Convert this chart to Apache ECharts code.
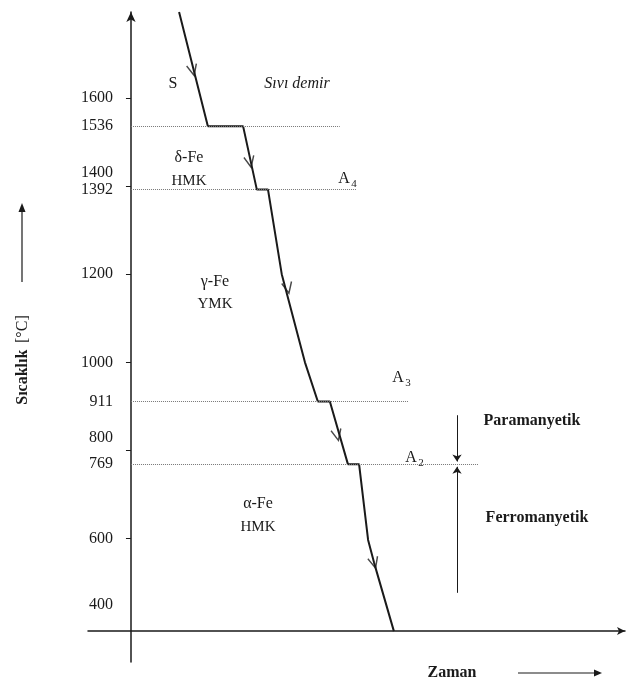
<!DOCTYPE html>
<html>
<head>
<meta charset="utf-8">
<script src="https://cdn.jsdelivr.net/npm/echarts@6/dist/echarts.min.js"></script>
<style>
  html, body { margin: 0; padding: 0; background: #fff; }
  #main { width: 627px; height: 687px; }
</style>
</head>
<body>
<div id="main"></div>
<script>
// cooling curve of pure iron (time in arbitrary units, temperature in °C)
var curveTime = [11.2, 17.9, 26.1, 29.3, 31.9, 35.1, 40.5, 43.5, 46.3, 50.5, 53.1, 55.2, 56.6, 61.2];
var curveTemp = [1795, 1536, 1536, 1392, 1392, 1200, 1000, 911, 911, 769, 769, 597, 545, 390];

// transformation temperatures and how far the dotted guide goes
var critTemps = [1536, 1392, 911, 769];
var critLineEnd = [48.6, 52.6, 64.5, 80.8];

// direction arrows along the curve
var arrowTime = [14.4, 27.7, 36.5, 48.0, 56.6];
var arrowTemp = [1663, 1455, 1169, 835, 545];
var arrowTilt = [14, 12, 12, 13, 15];

// axis ticks / labels
var tickLabels = [1600, 1536, 1400, 1392, 1200, 1000, 911, 800, 769, 600, 400];
var tickMarks = [1600, 1400, 1200, 1000, 800, 600];

// magnetic change arrows (at the Curie point A2)
var magX = 75.9;
var paraFrom = 880, paraTo = 775;
var ferroFrom = 477, ferroTo = 763;

var FONT = 'Liberation Serif';
var INK = '#1a1a1a';

var myChart = echarts.init(document.getElementById('main'));

var curveData = [];
for (var i = 0; i < curveTime.length; i++) curveData.push([curveTime[i], curveTemp[i]]);

var guideLines = [];
for (var j = 0; j < critTemps.length; j++) {
  guideLines.push([{ coord: [0, critTemps[j]] }, { coord: [critLineEnd[j], critTemps[j]] }]);
}

var arrowData = [];
for (var k = 0; k < arrowTime.length; k++) {
  arrowData.push({ value: [arrowTime[k], arrowTemp[k]], symbolRotate: arrowTilt[k] });
}

function txt(x, y, s, size, weight, style) {
  return {
    type: 'text', x: x, y: y, silent: true,
    style: {
      text: s, fill: INK, font: (style || 'normal') + ' ' + (weight || 'normal') + ' ' + size + 'px "' + FONT + '"',
      align: 'center', verticalAlign: 'middle'
    }
  };
}

myChart.setOption({
  animation: false,
  backgroundColor: '#fff',
  grid: { left: 88, right: 2, top: 12, bottom: 25 },
  xAxis: {
    type: 'value', min: -10, max: 115,
    offset: -31,
    axisLine: { show: true, onZero: false, symbol: ['none', 'arrow'], symbolSize: [6, 8], lineStyle: { color: INK, width: 1.5 } },
    axisTick: { show: false }, axisLabel: { show: false }, splitLine: { show: false }
  },
  yAxis: {
    type: 'value', min: 320, max: 1795,
    axisLine: { show: true, onZero: true, symbol: ['none', 'arrow'], symbolSize: [7, 10], lineStyle: { color: INK, width: 1.5 } },
    axisTick: { show: true, length: 5, customValues: tickMarks, lineStyle: { color: INK, width: 1 } },
    axisLabel: {
      show: true, customValues: tickLabels, margin: -25,
      color: INK, fontFamily: FONT, fontSize: 16,
      formatter: function (v) {
        if (v === 1400 || v === 800) return '{up|' + v + '}';
        if (v === 400) return '{up2|' + v + '}';
        return '' + v;
      },
      rich: {
        up: { fontFamily: FONT, fontSize: 16, color: INK, padding: [0, 0, 26, 0] },
        up2: { fontFamily: FONT, fontSize: 16, color: INK, padding: [0, 0, 44, 0] }
      }
    },
    splitLine: { show: false }
  },
  series: [
    {
      name: 'curve', type: 'line', data: curveData,
      symbol: 'none', clip: false,
      lineStyle: { color: INK, width: 2 },
      markLine: {
        silent: true, symbol: 'none', label: { show: false },
        lineStyle: { color: '#777', type: 'dotted', width: 1 },
        data: guideLines
      },
      z: 3
    },
    {
      name: 'direction', type: 'scatter', data: arrowData,
      symbol: 'path://M0,0L5,10L10,0', symbolSize: [10, 11],
      itemStyle: { color: 'none', borderColor: INK, borderWidth: 1.5 },
      z: 4
    },
    {
      name: 'magnetic', type: 'line', data: [],
      markLine: {
        silent: true, label: { show: false }, symbolSize: 7,
        lineStyle: { color: INK, type: 'solid', width: 1 },
        data: [
          [{ coord: [magX, paraFrom], symbol: 'none' }, { coord: [magX, paraTo], symbol: 'arrow' }],
          [{ coord: [magX, ferroFrom], symbol: 'none' }, { coord: [magX, ferroTo], symbol: 'arrow' }]
        ]
      }
    }
  ],
  graphic: [
    txt(173, 84, 'S', 16),
    txt(297, 84, 'Sıvı demir', 16, 'normal', 'italic'),
    txt(189, 158, 'δ-Fe', 16),
    txt(189, 181, 'HMK', 15),
    txt(344, 179, 'A', 16), txt(354, 184, '4', 11),
    txt(215, 282, 'γ-Fe', 16),
    txt(215, 304, 'YMK', 15),
    txt(398, 378, 'A', 16), txt(408, 383, '3', 11),
    txt(532, 421, 'Paramanyetik', 16, 'bold'),
    txt(411, 458, 'A', 16), txt(421, 463, '2', 11),
    txt(258, 504, 'α-Fe', 16),
    txt(258, 527, 'HMK', 15),
    txt(537, 518, 'Ferromanyetik', 16, 'bold'),
    txt(452, 673, 'Zaman', 16, 'bold'),
    { type: 'line', silent: true, shape: { x1: 518, y1: 673, x2: 596, y2: 673 }, style: { stroke: INK, lineWidth: 1.2 } },
    { type: 'polygon', silent: true, shape: { points: [[602, 673], [594, 669.5], [594, 676.5]] }, style: { fill: INK } },
    {
      type: 'text', x: 23, y: 360, rotation: Math.PI / 2, silent: true,
      style: {
        text: '{b|Sıcaklık}  {n|[°C]}', align: 'center', verticalAlign: 'middle',
        rich: {
          b: { fontFamily: FONT, fontSize: 16, fontWeight: 'bold', fill: INK },
          n: { fontFamily: FONT, fontSize: 16, fill: INK }
        }
      }
    },
    { type: 'line', silent: true, shape: { x1: 22, y1: 282, x2: 22, y2: 210 }, style: { stroke: INK, lineWidth: 1.2 } },
    { type: 'polygon', silent: true, shape: { points: [[22, 203], [18.5, 212], [25.5, 212]] }, style: { fill: INK } }
  ]
});
</script>
</body>
</html>
